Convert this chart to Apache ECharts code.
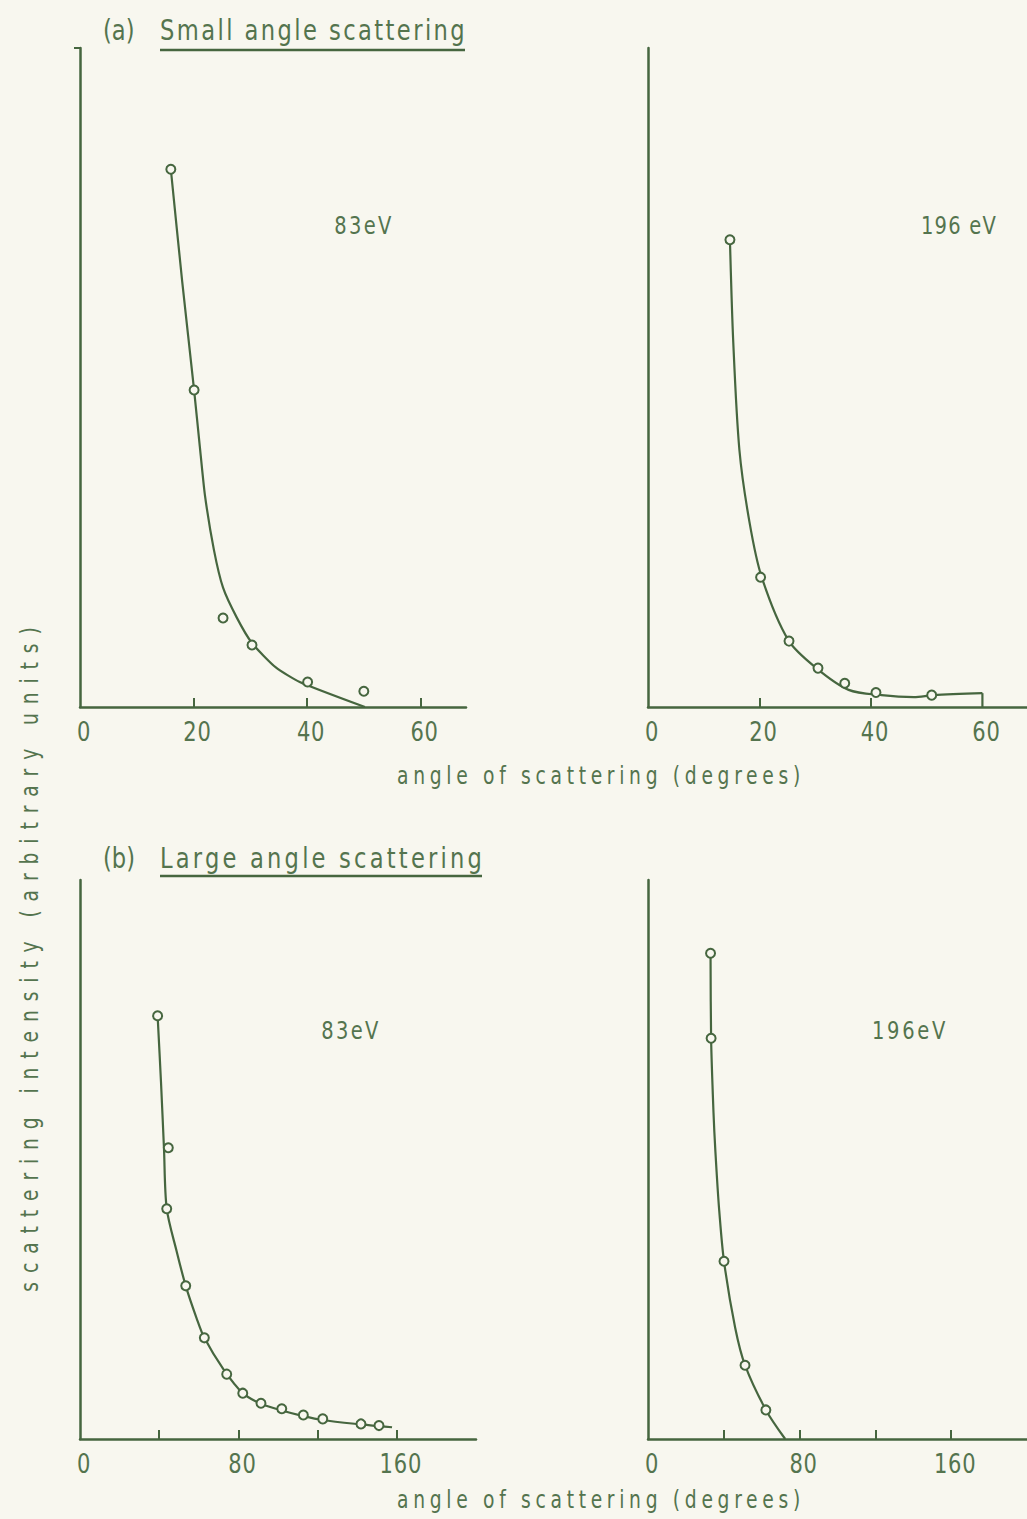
<!DOCTYPE html>
<html>
<head>
<meta charset="utf-8">
<script src="https://cdn.jsdelivr.net/npm/echarts@6/dist/echarts.min.js"></script>
<style>
html,body{margin:0;padding:0;background:#f8f7ef;}
#chart{width:1027px;height:1519px;}
</style>
</head>
<body>
<div id="chart"></div>
<script>
// ---- data (angle in degrees, intensity in arbitrary units 0-100) ----
const smallTitle = "Small angle scattering";
const largeTitle = "Large angle scattering";
const xTitle = "angle of scattering (degrees)";
const yTitle = "scattering intensity (arbitrary units)";

const smallTicks = [20, 40, 60];
const smallTicksRight = [20, 40];
const smallLabels = [0, 20, 40, 60];
const largeTicks = [40, 80, 120, 160];
const largeLabels = [0, 80, 160];

// (a) 83 eV
const small83Points = [[16.0,81.6],[20.1,48.1],[25.2,13.5],[30.3,9.4],[40.1,3.8],[50.0,2.4]];
const small83Curve = [[16.0,81.6],[18.0,64.6],[20.1,48.1],[21.1,39.6],[22.0,32.2],[23.6,23.8],[25.2,18.1],[27.6,13.6],[30.3,9.7],[34.5,6.0],[38.7,3.8],[50.2,0]];
// (a) 196 eV
const small196Points = [[14.7,70.9],[20.2,19.7],[25.3,10.0],[30.5,5.9],[35.3,3.6],[40.9,2.2],[50.9,1.8]];
const small196Curve = [[14.7,70.9],[15.3,55.3],[16.4,39.0],[18.2,28.1],[20.4,19.7],[25.2,10.1],[30.2,5.9],[36.0,2.6],[41.9,1.8],[47.7,1.5],[51.2,1.8],[60.0,2.1]];
const small196End = [[60.0,2.1],[60.0,0]];
// (b) 83 eV
const large83Points = [[39.2,75.7],[44.6,52.1],[43.8,41.2],[53.4,27.4],[62.8,18.1],[74.1,11.6],[82.2,8.2],[91.4,6.4],[101.9,5.4],[112.8,4.3],[122.6,3.6],[141.9,2.7],[151.0,2.4]];
const large83Curve = [[39.2,75.7],[40.9,63.9],[42.4,52.1],[43.8,41.2],[48.8,33.6],[53.4,27.4],[58.9,21.6],[62.8,18.1],[72.4,12.5],[82.2,8.2],[91.4,6.3],[101.9,5.1],[112.8,4.1],[122.6,3.4],[141.9,2.6],[151.0,2.3],[157.6,2.1]];
// (b) 196 eV
const large196Points = [[33.0,86.9],[33.3,71.7],[40.1,31.8],[51.2,13.2],[62.2,5.2]];
const large196Curve = [[33.0,86.9],[33.3,71.7],[34.2,61.7],[35.0,55.0],[36.2,47.8],[37.6,40.8],[40.1,31.8],[46.0,19.9],[51.2,13.2],[62.2,5.2],[72.4,0]];

// ---- styles ----
const BG = '#f8f7ef';
const LINE = '#46663f';
const TXT = '#54744e';
const FONT = 'DejaVu Sans, Roboto, sans-serif';
const NARROW = 0.78;   // horizontal squeeze of the lettering

function xAxisCfg(gridIndex, max, ticks, labels) {
  return {
    type: 'value', gridIndex: gridIndex, min: 0, max: max,
    axisLine: {show: true, onZero: false, lineStyle: {color: LINE, width: 2.5}},
    axisTick: {show: true, inside: true, length: 9, customValues: ticks, lineStyle: {color: LINE, width: 2}},
    axisLabel: {show: true, customValues: labels, fontSize: 27, fontFamily: FONT, color: TXT, margin: 12, padding: [0, 0, 0, 8]},
    splitLine: {show: false}
  };
}
function yAxisCfg(gridIndex) {
  return {
    type: 'value', gridIndex: gridIndex, min: 0, max: 100,
    axisLine: {show: true, onZero: false, lineStyle: {color: LINE, width: 2.5}},
    axisTick: {show: false}, axisLabel: {show: false}, splitLine: {show: false}
  };
}
function curve(i, data, smooth) {
  return {type: 'line', xAxisIndex: i, yAxisIndex: i, data: data, smooth: smooth,
    symbol: 'none', showSymbol: false, silent: true, z: 2,
    lineStyle: {color: LINE, width: 2.2}};
}
function pts(i, data) {
  return {type: 'scatter', xAxisIndex: i, yAxisIndex: i, data: data, symbol: 'circle', symbolSize: 9,
    silent: true, z: 3, itemStyle: {color: BG, borderColor: LINE, borderWidth: 2, opacity: 1}};
}
function txt(x, y, text, size, align, rot) {
  return {type: 'text', x: x, y: y, rotation: rot || 0, silent: true,
    style: {text: text, fontSize: size, fontFamily: FONT, fill: TXT, align: align || 'center', verticalAlign: 'middle'}};
}

const option = {
  backgroundColor: BG,
  animation: false,
  grid: [
    {left: 80, top: 48, width: 386, height: 659},
    {left: 648, top: 48, width: 388, height: 659},
    {left: 80, top: 880, width: 396, height: 559},
    {left: 648, top: 880, width: 392, height: 559}
  ],
  xAxis: [
    xAxisCfg(0, 68, smallTicks, smallLabels),
    xAxisCfg(1, 68, smallTicksRight, smallLabels),
    xAxisCfg(2, 200, largeTicks, largeLabels),
    xAxisCfg(3, 200, largeTicks, largeLabels)
  ],
  yAxis: [yAxisCfg(0), yAxisCfg(1), yAxisCfg(2), yAxisCfg(3)],
  series: [
    curve(0, small83Curve, 0.2), pts(0, small83Points),
    curve(1, small196Curve, 0.3), curve(1, small196End, false), pts(1, small196Points),
    curve(2, large83Curve, 0.3), pts(2, large83Points),
    curve(3, large196Curve, 0.3), pts(3, large196Points)
  ],
  graphic: [
    {type: 'line', silent: true, shape: {x1: 74, y1: 48, x2: 81, y2: 48}, style: {stroke: LINE, lineWidth: 2}},
    txt(103, 30, '(a)', 29, 'left'),
    txt(160, 30, smallTitle, 29, 'left'),
    {type: 'line', silent: true, shape: {x1: 160, y1: 50, x2: 465, y2: 50}, style: {stroke: LINE, lineWidth: 2.5}},
    txt(103, 858, '(b)', 29, 'left'),
    txt(160, 858, largeTitle, 29, 'left'),
    {type: 'line', silent: true, shape: {x1: 160, y1: 876, x2: 482, y2: 876}, style: {stroke: LINE, lineWidth: 2.5}},
    txt(364, 225, '83eV', 25),
    txt(959, 225, '196 eV', 25),
    txt(351, 1030, '83eV', 25),
    txt(910, 1030, '196eV', 25),
    txt(601, 776, xTitle, 24),
    txt(601, 1500, xTitle, 24),
    txt(30, 955, yTitle, 24, 'center', Math.PI / 2)
  ]
};

const chart = echarts.init(document.getElementById('chart'), null, {renderer: 'svg'});
chart.setOption(option);

// letter spacing (px, before squeeze) per text
const spacing = {};
spacing[smallTitle] = 3.1; spacing[largeTitle] = 4.1;
spacing[xTitle] = 6; spacing[yTitle] = 11.4;
spacing['83eV'] = 3; spacing['196 eV'] = 1.6; spacing['196eV'] = 3.5;
spacing['(a)'] = 0; spacing['(b)'] = 0;
function styleTexts() {
  document.querySelectorAll('#chart text').forEach(function (t) {
    const k = t.textContent.trim();
    const s = spacing.hasOwnProperty(k) ? spacing[k] : 1;
    t.style.letterSpacing = s + 'px';
    if (t.getAttribute('data-sq') !== '1') {
      const x = parseFloat(t.getAttribute('x') || 0);
      const y = parseFloat(t.getAttribute('y') || 0);
      const tr = t.getAttribute('transform') || '';
      t.setAttribute('transform', tr + ' translate(' + x + ' ' + y + ') scale(' + NARROW + ' 1) translate(' + (-x) + ' ' + (-y) + ')');
      t.setAttribute('data-sq', '1');
    }
  });
}
chart.on('finished', styleTexts);
styleTexts();
setTimeout(styleTexts, 50);
</script>
</body>
</html>
